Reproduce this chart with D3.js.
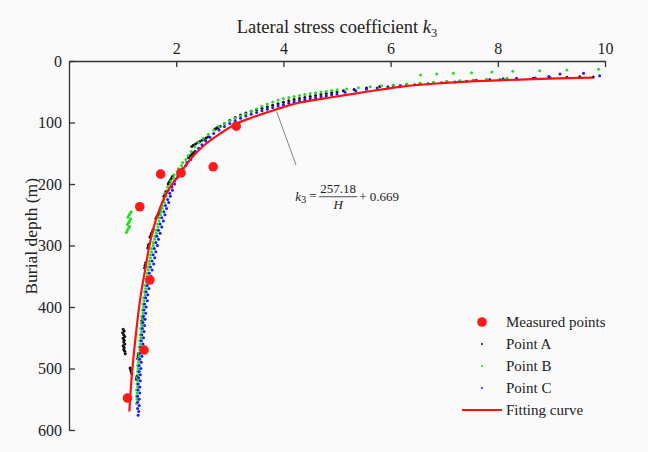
<!DOCTYPE html>
<html>
<head>
<meta charset="utf-8">
<script src="https://cdn.jsdelivr.net/npm/d3@7"></script>
<style>
body{margin:0;background:#fafafa}
svg{display:block}
</style>
</head>
<body>
<script>
const width = 648;
const height = 452;

const xTicks = [2, 4, 6, 8, 10];
const yTicks = [0, 100, 200, 300, 400, 500, 600];

// measured points: k3, depth
const measuredK = [3.12, 2.69, 2.09, 1.71, 1.32, 1.51, 1.40, 1.09];
const measuredDepth = [106, 172, 182, 184, 237, 356, 470, 548];

// fitting curve
const fitK = [9.78, 8.66, 7.42, 6.80, 6.18, 5.55, 4.93, 4.31, 4.0, 3.75, 3.38, 3.12, 2.82, 2.55, 2.30, 2.07, 1.82, 1.64, 1.51, 1.42, 1.335, 1.257, 1.175, 1.125];
const fitDepth = [27, 29.5, 33.6, 37, 42, 50, 58.5, 67.5, 75, 82, 93, 102, 118, 135, 156, 183, 215, 253, 296, 340, 383, 437, 508, 570];

// [k3, depth]
const pointA = [
  [9.78,26],[9.53,25.5],[9.29,26.5],[8.97,26.8],[8.66,28.2],[8.35,29.2],[8.04,30.4],[7.79,30.9],[7.55,31.8],[7.29,32.8],
  [7.05,34],[6.80,35.4],[6.55,36.8],[6.30,38.2],[6.05,39.8],[5.80,41.6],[5.55,44],[5.32,46.2],[5.12,48.4],
  [5.0,50.2],[4.9,51.5],[4.8,52.9],[4.7,54.4],[4.6,56],[4.5,57.6],[4.4,59.3],[4.3,61],[4.2,62.8],[4.1,64.8],[4.0,67],
  [3.9,69.4],[3.8,71.9],[3.7,74.5],[3.6,77],[3.5,79.3],[3.4,81.8],[3.3,84.6],[3.2,88],[3.1,92],[3.0,96.5],[2.9,101.5],
  [2.82,106],[2.80,107],[2.78,108],[2.76,109],[2.74,110],[2.72,111],
  [2.60,123],[2.56,125],[2.52,127],[2.48,129],[2.44,131],[2.40,133],[2.36,135],[2.32,137],[2.29,139],
  [2.35,147],[2.32,149],[2.29,152],[2.26,154],[2.23,157],
  [1.93,188],[1.91,191],[1.89,194],[1.87,197],[1.85,200],
  [1.81,212],[1.79,216],[1.77,220],
  [1.70,244],[1.68,247],[1.66,250],[1.64,253],[1.62,256],
  [1.57,274],[1.56,277],[1.54,280],[1.53,283],[1.51,286],
  [1.49,298],[1.48,301],[1.47,304],
  [1.43,328],[1.42,332],[1.41,336],
  [1.37,418],[1.36,422],[1.36,426],
  [1.29,476],[1.29,480],[1.28,484],
  [1.14,499],[1.15,502],[1.16,505],[1.17,508],
  [1.27,512],[1.26,515],[1.26,518],
  [1.01,436],[1.03,439],[1.00,442],[1.02,445],[1.04,448],[1.01,451],[1.03,454],[1.02,457],[1.04,460],
  [1.01,463],[1.03,466],[1.02,469],[1.04,472],[1.05,476]
];

const pointB = [
  [9.88,13.5],[9.29,14.6],[8.78,15.8],[8.28,16.7],[7.89,17.9],[7.51,19],[7.17,20],[6.86,21],[6.56,22.8],
  [8.17,28.2],[7.79,29.8],[7.54,30.9],[7.29,32],[7.05,33],[6.80,34.7],[6.55,35.8],[6.30,37.4],[6.05,39],[5.83,40.1],
  [5.62,41.8],[5.40,43.4],[5.18,45.5],
  [5.0,46.8],[4.9,48],[4.8,49.2],[4.7,50.4],[4.6,51.7],[4.5,53],[4.4,54.5],[4.3,56],[4.2,57.8],[4.1,59.4],[4.0,61],
  [3.9,63.5],[3.8,66.5],[3.7,70],[3.6,73.5],[3.5,77.5],[3.4,82],[3.3,86],[3.2,89.5],[3.1,93],[3.0,97],[2.9,101.5],
  [2.8,106.5],[2.7,112],[2.6,119],[2.5,126],[2.42,133],[2.35,140],[2.28,147],[2.22,154],
  [2.18,160],[2.12,165],[2.10,170],[2.04,175],[2.02,180],[1.96,185],[1.95,190],[1.90,195],[1.89,200],[1.84,205],
  [1.85,210],[1.80,215],[1.81,220],[1.77,225],[1.78,230],[1.74,235],[1.74,240],[1.71,245],[1.71,250],[1.68,255],
  [1.68,260],[1.65,265],[1.66,270],[1.63,275],[1.63,280],[1.60,285],[1.60,290],[1.57,295],[1.57,300],[1.54,305],
  [1.54,310],[1.52,315],[1.52,320],[1.50,325],[1.50,330],[1.47,335],[1.48,340],[1.46,345],[1.46,350],[1.44,355],
  [1.45,360],[1.42,365],[1.43,370],[1.41,375],[1.42,380],[1.39,385],[1.40,390],[1.38,395],[1.39,400],[1.37,405],
  [1.38,410],[1.36,415],[1.37,420],[1.35,425],[1.36,430],[1.34,435],[1.35,440],[1.33,445],[1.34,450],[1.32,455],
  [1.33,460],[1.31,465],[1.32,470],[1.30,475],[1.31,480],[1.29,485],[1.30,490],[1.28,495],[1.29,500],[1.28,505],
  [1.29,510],[1.27,515],[1.28,520],[1.27,525],[1.28,530],[1.26,535],[1.27,540],[1.26,545],[1.27,550],[1.26,557],
  [1.16,245],[1.14,248],[1.12,251],[1.10,254],[1.15,257],[1.13,260],[1.11,263],[1.09,266],
  [1.13,269],[1.11,272],[1.09,275],[1.07,279]
];

const pointC = [
  [9.90,24],[9.60,20],[9.16,21],[8.95,25],[8.70,27.5],[8.35,28],[8.10,29],[7.85,30],[7.60,31.5],[7.42,33],
  [7.20,34],[6.95,35.5],[6.70,37],[6.45,38.5],[6.18,40],[5.95,42],[5.75,44],[5.55,46],[5.35,48.5],[5.15,51],
  [5.0,53.5],[4.9,55],[4.8,56.5],[4.7,58],[4.6,59.6],[4.5,61.2],[4.4,63],[4.3,64.8],[4.2,66.7],[4.1,68.7],[4.0,71],
  [3.9,73.3],[3.8,75.8],[3.7,78.4],[3.6,81],[3.5,83.6],[3.4,86.5],[3.3,89.5],[3.2,93],[3.1,97],[3.0,101.5],[2.9,106.5],
  [2.8,112],[2.7,118],[2.63,124],[2.55,130],[2.48,136],[2.42,142],[2.36,148],
  [2.30,155],[2.27,160],[2.20,165],[2.18,170],[2.11,175],[2.09,180],[2.03,185],[2.02,190],[1.97,195],[1.97,200],
  [1.92,205],[1.93,210],[1.88,215],[1.89,220],[1.84,225],[1.86,230],[1.80,235],[1.82,240],[1.77,245],[1.79,250],
  [1.73,255],[1.76,260],[1.70,265],[1.73,270],[1.67,275],[1.70,280],[1.64,285],[1.67,290],[1.62,295],[1.65,300],
  [1.59,305],[1.62,310],[1.57,315],[1.60,320],[1.55,325],[1.58,330],[1.52,335],[1.55,340],[1.50,345],[1.53,350],
  [1.48,355],[1.51,360],[1.46,365],[1.49,370],[1.44,375],[1.47,380],[1.43,385],[1.46,390],[1.41,395],[1.44,400],
  [1.40,405],[1.43,410],[1.39,415],[1.42,420],[1.38,425],[1.41,430],[1.37,435],[1.40,440],[1.36,445],[1.39,450],
  [1.35,455],[1.38,460],[1.34,465],[1.37,470],[1.33,475],[1.36,480],[1.32,485],[1.35,490],[1.31,495],[1.34,500],
  [1.31,505],[1.33,510],[1.30,515],[1.33,520],[1.29,525],[1.32,530],[1.29,535],[1.32,540],[1.28,545],[1.31,550],
  [1.28,555],[1.31,560],[1.28,565],[1.30,570],[1.29,576]
];

// leader line from curve to the formula
const leaderK = [3.875, 4.235];
const leaderDepth = [82.4, 169];

const legendLabels = ["Measured points", "Point A", "Point B", "Point C", "Fitting curve"];
const colors = {measured: "#ff1a1a", A: "#111", B: "#22dd22", C: "#1a1aff", fit: "#ff1010"};

const font = "'Liberation Serif','Times New Roman',serif";

const x = d3.scaleLinear().domain([0, 10]).range([69, 605]);
const y = d3.scaleLinear().domain([0, 600]).range([61, 430]);

const svg = d3.select(document.body).append("svg")
    .attr("width", width)
    .attr("height", height)
    .style("font-family", font);

svg.append("rect").attr("width", width).attr("height", height).attr("fill", "#fafafa");

const gx = svg.append("g")
    .attr("transform", "translate(0," + y(0) + ")")
    .call(d3.axisTop(x).tickValues(xTicks).tickSizeInner(-6).tickSizeOuter(0).tickPadding(7.5));

const gy = svg.append("g")
    .attr("transform", "translate(" + x(0) + ",0)")
    .call(d3.axisLeft(y).tickValues(yTicks).tickSizeInner(-6).tickSizeOuter(0).tickPadding(7));

[gx, gy].forEach(g => {
    g.select(".domain").attr("stroke", "#333").attr("stroke-width", 1.3);
    g.selectAll(".tick line").attr("stroke", "#333").attr("stroke-width", 1.3);
    g.selectAll(".tick text").attr("font-family", font).attr("font-size", 16).attr("fill", "#222");
});

// x title
const xt = svg.append("text")
    .attr("x", x(5))
    .attr("y", 33)
    .attr("text-anchor", "middle")
    .attr("font-size", 18.5)
    .attr("fill", "#222");
xt.append("tspan").text("Lateral stress coefficient ");
xt.append("tspan").attr("font-style", "italic").text("k");
xt.append("tspan").attr("font-size", 12.5).attr("dy", 4).text("3");

svg.append("text")
    .attr("transform", "translate(37," + y(285) + ") rotate(-90)")
    .attr("text-anchor", "middle")
    .attr("font-size", 17.5)
    .attr("fill", "#222")
    .text("Burial depth (m)");

// point series
function dots(data, color) {
    svg.append("g")
        .attr("fill", color)
        .selectAll("circle")
        .data(data)
        .join("circle")
        .attr("cx", d => x(d[0]))
        .attr("cy", d => y(d[1]))
        .attr("r", 1.5);
}
dots(pointA, colors.A);
dots(pointB, colors.B);
dots(pointC, colors.C);

const fit = d3.line()
    .x(d => x(d[0]))
    .y(d => y(d[1]))
    .curve(d3.curveCatmullRom);

svg.append("path")
    .datum(d3.zip(fitK, fitDepth))
    .attr("d", fit)
    .attr("fill", "none")
    .attr("stroke", colors.fit)
    .attr("stroke-width", 2.2);

svg.append("g")
    .attr("fill", colors.measured)
    .selectAll("circle")
    .data(d3.zip(measuredK, measuredDepth))
    .join("circle")
    .attr("cx", d => x(d[0]))
    .attr("cy", d => y(d[1]))
    .attr("r", 4.8);

svg.append("line")
    .attr("x1", x(leaderK[0])).attr("y1", y(leaderDepth[0]))
    .attr("x2", x(leaderK[1])).attr("y2", y(leaderDepth[1]))
    .attr("stroke", "#666")
    .attr("stroke-width", 0.8);

// formula
const fx = x(4.22), fy = y(228);
const f = svg.append("g").attr("font-size", 13).attr("fill", "#222");
const k3 = f.append("text").attr("x", fx).attr("y", fy);
k3.append("tspan").attr("font-style", "italic").text("k");
k3.append("tspan").attr("font-size", 10.5).attr("dy", 2).text("3");
f.append("text").attr("x", fx + 14).attr("y", fy - 1).text("=");
f.append("text").attr("x", fx + 43).attr("y", fy - 8).attr("text-anchor", "middle").text("257.18");
f.append("line").attr("x1", fx + 24).attr("x2", fx + 62).attr("y1", fy - 4.5).attr("y2", fy - 4.5)
    .attr("stroke", "#222").attr("stroke-width", 0.8);
f.append("text").attr("x", fx + 43).attr("y", fy + 8).attr("text-anchor", "middle").attr("font-style", "italic").text("H");
f.append("text").attr("x", fx + 64).attr("y", fy).text("+ 0.669");

// legend
const lg = svg.append("g").attr("transform", "translate(462,322)");
const rowH = 22;
legendLabels.forEach((t, i) => {
    lg.append("text")
        .attr("x", 44)
        .attr("y", i * rowH)
        .attr("dy", "0.33em")
        .attr("font-size", 15)
        .attr("fill", "#222")
        .text(t);
});
lg.append("circle").attr("cx", 20).attr("cy", 0).attr("r", 4.8).attr("fill", colors.measured);
lg.append("circle").attr("cx", 20).attr("cy", rowH).attr("r", 1).attr("fill", colors.A);
lg.append("circle").attr("cx", 20).attr("cy", rowH * 2).attr("r", 1).attr("fill", colors.B);
lg.append("circle").attr("cx", 20).attr("cy", rowH * 3).attr("r", 1).attr("fill", colors.C);
lg.append("line").attr("x1", 0).attr("x2", 40).attr("y1", rowH * 4).attr("y2", rowH * 4)
    .attr("stroke", colors.fit).attr("stroke-width", 2);
</script>
</body>
</html>
